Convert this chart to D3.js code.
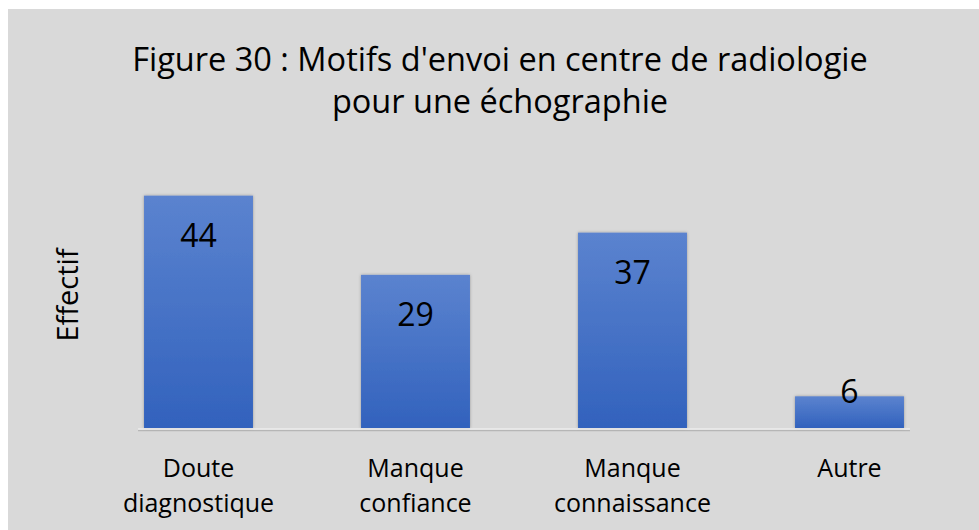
<!DOCTYPE html>
<html>
<head>
<meta charset="utf-8">
<script src="https://cdn.jsdelivr.net/npm/d3@7"></script>
<style>
  body { margin: 0; background: #ffffff; }
  svg { display: block; }
  text { font-family: "Open Sans", sans-serif; fill: #000; }
</style>
</head>
<body>
<div id="chart"></div>
<script>
// data
var categories = [["Doute", "diagnostique"], ["Manque", "confiance"], ["Manque", "connaissance"], ["Autre"]];
var values = [44, 29, 37, 6];
var titleLines = ["Figure 30 : Motifs d'envoi en centre de radiologie", "pour une échographie"];
var yLabel = "Effectif";

var W = 979, H = 530;
var margin = {top: 164, right: 21, bottom: 102, left: 90};
var width = W - margin.left - margin.right,
    height = H - margin.top - margin.bottom;

var svg = d3.select("#chart").append("svg")
    .attr("width", W)
    .attr("height", H);

// chart background
svg.append("rect")
    .attr("x", 8).attr("y", 9)
    .attr("width", W - 8).attr("height", H - 9)
    .attr("fill", "#d9d9d9");

var defs = svg.append("defs");
var grad = defs.append("linearGradient")
    .attr("id", "barGrad")
    .attr("x1", 0).attr("y1", 0).attr("x2", 0).attr("y2", 1);
grad.append("stop").attr("offset", "0%").attr("stop-color", "#5b83cf");
grad.append("stop").attr("offset", "100%").attr("stop-color", "#3262bd");

var shadow = defs.append("filter").attr("id", "shadow")
    .attr("x", "-10%").attr("y", "-10%").attr("width", "120%").attr("height", "120%");
shadow.append("feDropShadow")
    .attr("dx", 0).attr("dy", 0).attr("stdDeviation", 1.5)
    .attr("flood-color", "#000").attr("flood-opacity", 0.3);

var g = svg.append("g").attr("transform", "translate(" + margin.left + "," + margin.top + ")");

var x = d3.scaleBand()
    .domain(d3.range(values.length))
    .range([0, width])
    .paddingInner(0.498)
    .paddingOuter(0.249);

var y = d3.scaleLinear()
    .domain([0, 50])
    .range([height, 0]);

// title
svg.append("g").selectAll("text")
    .data(titleLines)
    .join("text")
    .attr("x", 500)
    .attr("y", function(d, i) { return 71 + i * 42; })
    .attr("text-anchor", "middle")
    .style("font-size", "32.5px")
    .text(function(d) { return d; });

// y axis label
svg.append("text")
    .attr("transform", "translate(78,295) rotate(-90)")
    .attr("text-anchor", "middle")
    .style("font-size", "29px")
    .text(yLabel);

// bars
g.selectAll(".bar")
    .data(values)
    .join("rect")
    .attr("class", "bar")
    .attr("x", function(d, i) { return x(i); })
    .attr("y", function(d) { return y(d); })
    .attr("width", x.bandwidth())
    .attr("height", function(d) { return height - y(d); })
    .attr("fill", "url(#barGrad)")
    .attr("filter", "url(#shadow)");

// baseline
var x1 = x(0) - 6, x2 = x(values.length - 1) + x.bandwidth() + 6;
g.append("line")
    .attr("x1", x1).attr("x2", x2)
    .attr("y1", y(0) + 2.5).attr("y2", y(0) + 2.5)
    .attr("stroke", "#8c8c8c").attr("stroke-width", 1.5).attr("opacity", 0.45);
g.append("line")
    .attr("x1", x1).attr("x2", x2)
    .attr("y1", y(0) + 1).attr("y2", y(0) + 1)
    .attr("stroke", "#ececec").attr("stroke-width", 1.5);

// value labels
g.selectAll(".val")
    .data(values)
    .join("text")
    .attr("class", "val")
    .attr("x", function(d, i) { return x(i) + x.bandwidth() / 2; })
    .attr("y", function(d) { return Math.min(y(d) + 51, height - 25); })
    .attr("text-anchor", "middle")
    .style("font-size", "32px")
    .text(function(d) { return d; });

// category labels
var cat = g.selectAll(".cat")
    .data(categories)
    .join("text")
    .attr("class", "cat")
    .attr("x", function(d, i) { return x(i) + x.bandwidth() / 2; })
    .attr("y", height + 49)
    .attr("text-anchor", "middle")
    .style("font-size", "25px");
cat.selectAll("tspan")
    .data(function(d) { return d; })
    .join("tspan")
    .attr("x", function() { return d3.select(this.parentNode).attr("x"); })
    .attr("dy", function(d, i) { return i === 0 ? 0 : 35; })
    .text(function(d) { return d; });
</script>
</body>
</html>
